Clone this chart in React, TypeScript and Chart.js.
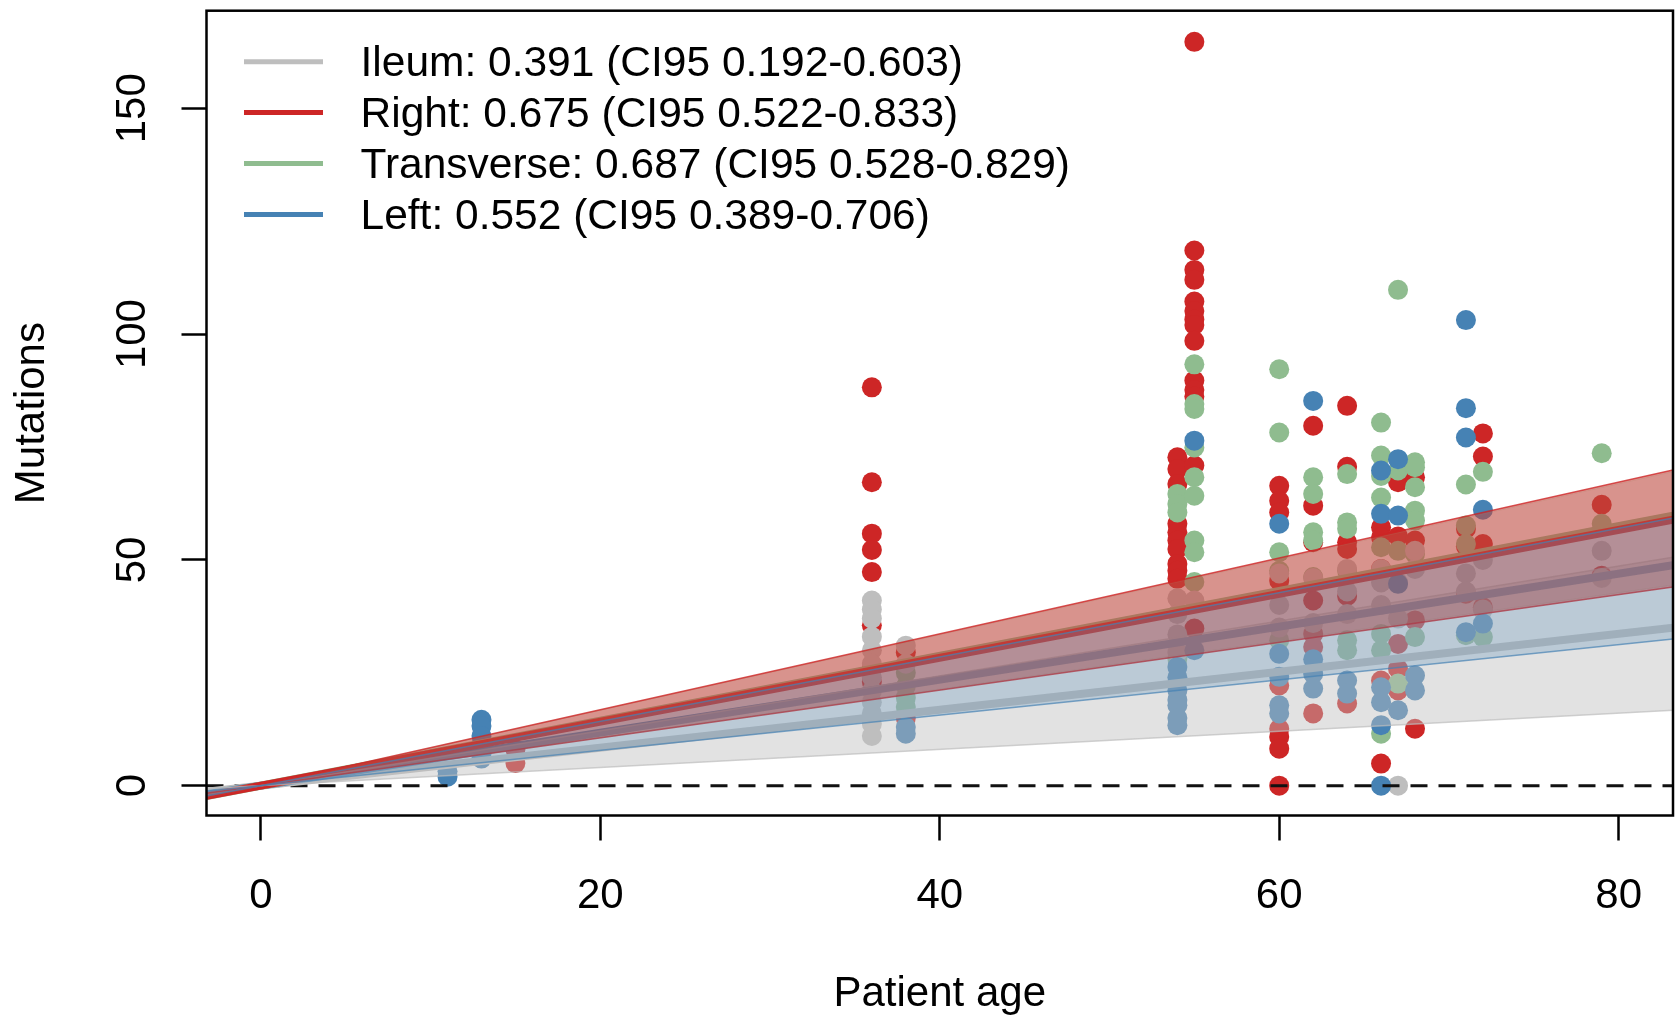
import React, { useEffect, useRef } from 'react';
import { Chart, registerables } from 'chart.js';

Chart.register(...registerables);

const FONT = '"Liberation Sans", Arial, Helvetica, sans-serif';

// ---- groups / fits ----
const groupNames = ['Ileum', 'Right', 'Transverse', 'Left'];
const groupColors = ['#BEBEBE', '#CD2626', '#8FBC8F', '#4682B4'];
const bandAlpha = [0.45, 0.45, 0.25, 0.25];
const bandEdgeAlpha = [0.7, 0.8, 0.2, 0.7];
const estimates = [0.391, 0.675, 0.687, 0.552];
const ciLow = [0.192, 0.522, 0.528, 0.389];
const ciHigh = [0.603, 0.833, 0.829, 0.706];
// fitted mutations read at the right edge of the plot (age 83.2); lines pass through the origin
const fitLineAtEdge = [35.0, 58.9, 59.8, 48.8];
const fitLowAtEdge = [16.7, 44.0, 44.4, 32.5];
const fitHighAtEdge = [50.6, 69.9, 69.6, 59.3];

// ---- axes ----
const xTicks = [0, 20, 40, 60, 80];
const yTicks = [0, 50, 100, 150];
const xRange = [-3.2, 83.2];
const yRange = [-6.6, 171.6];
const xTitle = 'Patient age';
const yTitle = 'Mutations';

// ---- points ----
const ileumAge = [13, 36, 36, 36, 36, 36, 36, 36, 36, 36, 36, 36, 36, 38, 38, 54, 54, 54, 54, 55, 60, 60, 60, 62, 62, 64, 64, 64, 66, 66, 66, 67, 67, 67, 68, 68, 71, 71, 72, 72, 79, 79];
const ileumMut = [9, 41, 39, 37, 33, 30, 27, 24, 21, 18.5, 16, 13.7, 11, 31, 27, 41.5, 38, 33.5, 29.5, 41, 47, 40, 35, 46, 36, 48, 43, 38, 48, 45, 40, 45, 37, 0, 52, 48, 47, 43, 50, 39, 52, 46];

const rightAge = [15, 15, 36, 36, 36, 36, 36, 36, 36, 36, 38, 38, 54, 54, 54, 54, 54, 54, 54, 54, 54, 54, 55, 55, 55, 55, 55, 55, 55, 55, 55, 55, 55, 55, 55, 55, 60, 60, 60, 60, 60, 60, 60, 60, 60, 62, 62, 62, 62, 62, 62, 62, 64, 64, 64, 64, 64, 64, 66, 66, 66, 66, 66, 67, 67, 67, 67, 67, 68, 68, 68, 68, 71, 71, 71, 72, 72, 72, 72, 79, 79];
const rightMut = [5, 8, 88.2, 67.2, 55.8, 52.2, 47.3, 35.5, 26, 23, 29.5, 15, 72.7, 70.1, 66.8, 58, 56.1, 54.3, 52.4, 49.1, 47.6, 45.8, 164.7, 118.5, 114.2, 112, 107.2, 105.1, 103.2, 102, 98.5, 89.7, 87.6, 86.2, 70.9, 34.8, 66.4, 63.1, 60.5, 45.4, 22.2, 12.6, 10.8, 8.2, 0, 79.7, 62, 53.9, 41, 33.6, 30.7, 16, 84.1, 70.6, 53.9, 52.4, 42, 18.2, 57.2, 55, 48, 23.3, 4.9, 67.2, 55.2, 31.4, 25.9, 21.1, 68.3, 54.3, 36.6, 12.6, 56.9, 53, 42.5, 78, 72.9, 53.5, 39.5, 62.2, 46.5];

const transverseAge = [38, 38, 38, 38, 54, 54, 54, 54, 55, 55, 55, 55, 55, 55, 55, 55, 55, 60, 60, 60, 60, 60, 62, 62, 62, 62, 62, 64, 64, 64, 64, 64, 64, 66, 66, 66, 66, 66, 66, 66, 66, 67, 67, 67, 67, 68, 68, 68, 68, 68, 68, 68, 71, 71, 71, 71, 72, 72, 79, 79];
const transverseMut = [25, 22, 19.5, 17.4, 64.6, 62.4, 60.5, 28.1, 93.3, 84.5, 83.4, 74.9, 68.3, 64.2, 54.3, 51.7, 45.1, 92.2, 78.2, 51.7, 47.6, 32.2, 68.3, 64.6, 56.1, 54.3, 46.2, 69, 58.3, 56.9, 47.6, 32.2, 30, 80.4, 73.1, 68.6, 63.8, 52.8, 33.6, 30, 11.5, 109.8, 69.8, 52, 22.6, 71.6, 70.5, 66.1, 60.9, 58.7, 51.3, 32.9, 66.7, 57.6, 53.5, 33.3, 69.5, 32.9, 73.6, 58];

const leftAge = [11, 11, 13, 13, 13, 13, 13, 13, 38, 38, 54, 54, 54, 54, 54, 54, 54, 55, 55, 60, 60, 60, 60, 60, 62, 62, 62, 62, 64, 64, 66, 66, 66, 66, 66, 66, 67, 67, 67, 67, 68, 68, 71, 71, 71, 71, 72, 72];
const leftMut = [2, 3.2, 14.6, 13.2, 11, 9, 7, 6, 13, 11.5, 26.3, 24, 21.1, 19, 17.8, 15, 13.4, 76.4, 30, 58, 29.2, 24.1, 17.8, 16, 85.2, 28, 24.8, 21.5, 23.3, 20.4, 69.8, 60.2, 21.8, 18.5, 13.4, 0, 72.3, 59.8, 44.7, 16.7, 24.4, 21.1, 103.1, 83.6, 77.1, 34, 61.1, 35.9];

const groupAges = [ileumAge, rightAge, transverseAge, leftAge];
const groupMuts = [ileumMut, rightMut, transverseMut, leftMut];
// drawing order (higher = drawn earlier / underneath)
const pointOrder = [102, 104, 103, 101];
const lineOrder = [64, 61, 62, 63];
const bandOrder = [40, 20, 30, 10];

function rgba(hex: string, a: number) {
  const n = parseInt(hex.slice(1), 16);
  return `rgba(${(n >> 16) & 255},${(n >> 8) & 255},${n & 255},${a})`;
}

function throughOrigin(edgeValue: number) {
  return [
    { x: xRange[0], y: (edgeValue * xRange[0]) / xRange[1] },
    { x: xRange[1], y: edgeValue },
  ];
}

const legendLabels = groupNames.map(
  (n, i) => `${n}: ${estimates[i].toFixed(3)} (CI95 ${ciLow[i].toFixed(3)}-${ciHigh[i].toFixed(3)})`
);

const frameAndLegend = {
  id: 'frameAndLegend',
  afterDraw(chart: any) {
    const { ctx, chartArea: a } = chart;
    ctx.save();
    ctx.strokeStyle = '#000';
    ctx.lineWidth = 2.5;
    ctx.strokeRect(a.left, a.top, a.right - a.left, a.bottom - a.top);
    ctx.font = `42.5px ${FONT}`;
    ctx.textBaseline = 'middle';
    ctx.textAlign = 'left';
    legendLabels.forEach((label, i) => {
      const y = a.top + 51 + i * 50.9;
      ctx.strokeStyle = groupColors[i];
      ctx.lineWidth = 5;
      ctx.lineCap = 'butt';
      ctx.beginPath();
      ctx.moveTo(a.left + 37.5, y);
      ctx.lineTo(a.left + 116.5, y);
      ctx.stroke();
      ctx.fillStyle = '#000';
      ctx.fillText(label, a.left + 154, y + 2.5);
    });
    ctx.restore();
  },
};

export default function App() {
  const ref = useRef<HTMLCanvasElement>(null);

  useEffect(() => {
    if (!ref.current) return;
    const datasets: any[] = [];

    // points
    groupNames.forEach((name, g) => {
      datasets.push({
        label: name + ' samples',
        data: groupAges[g].map((a, i) => ({ x: a, y: groupMuts[g][i] })),
        showLine: false,
        pointRadius: 10,
        pointBorderWidth: 0,
        pointBackgroundColor: groupColors[g],
        pointBorderColor: groupColors[g],
        order: pointOrder[g],
      });
    });

    // zero reference line
    datasets.push({
      label: 'zero',
      data: [
        { x: xRange[0], y: 0 },
        { x: xRange[1], y: 0 },
      ],
      borderColor: '#111',
      borderWidth: 3,
      borderDash: [17, 11],
      pointRadius: 0,
      fill: false,
      clip: 0,
      order: 90,
    });

    // fitted lines
    groupNames.forEach((name, g) => {
      datasets.push({
        label: name + ' fit',
        data: throughOrigin(fitLineAtEdge[g]),
        borderColor: groupColors[g],
        borderWidth: 8,
        pointRadius: 0,
        fill: false,
        clip: 0,
        order: lineOrder[g],
      });
    });

    // confidence bands
    groupNames.forEach((name, g) => {
      datasets.push({
        label: name + ' low',
        data: throughOrigin(fitLowAtEdge[g]),
        borderColor: rgba(groupColors[g], bandEdgeAlpha[g]),
        borderWidth: 1.5,
        pointRadius: 0,
        fill: false,
        clip: 0,
        order: bandOrder[g],
      });
      datasets.push({
        label: name + ' high',
        data: throughOrigin(fitHighAtEdge[g]),
        borderColor: rgba(groupColors[g], bandEdgeAlpha[g]),
        borderWidth: 1.5,
        pointRadius: 0,
        fill: '-1',
        backgroundColor: rgba(groupColors[g], bandAlpha[g]),
        clip: 0,
        order: bandOrder[g],
      });
    });

    const chart = new Chart(ref.current, {
      type: 'line',
      data: { datasets },
      options: {
        animation: false,
        responsive: false,
        devicePixelRatio: 1,
        events: [],
        layout: { autoPadding: false, padding: { left: 0, right: 5, top: 10.7, bottom: 0 } },
        elements: { line: { tension: 0 } },
        plugins: {
          legend: { display: false },
          tooltip: { enabled: false },
          filler: { propagate: false },
        },
        scales: {
          x: {
            type: 'linear',
            position: 'bottom',
            min: xRange[0],
            max: xRange[1],
            afterBuildTicks: (s: any) => {
              s.ticks = xTicks.map((v) => ({ value: v }));
            },
            afterFit: (s: any) => {
              s.height = 204.5;
              s.paddingLeft = 0;
              s.paddingRight = 0;
            },
            grid: {
              drawOnChartArea: false,
              drawTicks: true,
              tickLength: 25,
              tickWidth: 2.5,
              tickColor: '#000',
            },
            border: { display: false },
            ticks: {
              autoSkip: false,
              maxRotation: 0,
              minRotation: 0,
              padding: 31,
              color: '#000',
              font: { size: 42, family: FONT },
            },
            title: {
              display: true,
              text: xTitle,
              color: '#000',
              font: { size: 42, family: FONT },
              padding: { top: 0, bottom: 0 },
            },
          },
          y: {
            type: 'linear',
            position: 'left',
            min: yRange[0],
            max: yRange[1],
            afterBuildTicks: (s: any) => {
              s.ticks = yTicks.map((v) => ({ value: v }));
            },
            afterFit: (s: any) => {
              s.width = 206.5;
              s.paddingTop = 0;
              s.paddingBottom = 0;
            },
            grid: {
              drawOnChartArea: false,
              drawTicks: true,
              tickLength: 25,
              tickWidth: 2.5,
              tickColor: '#000',
            },
            border: { display: false },
            ticks: {
              autoSkip: false,
              minRotation: 90,
              maxRotation: 90,
              crossAlign: 'center',
              padding: 13.5,
              color: '#000',
              font: { size: 42, family: FONT },
            },
            title: {
              display: true,
              text: yTitle,
              color: '#000',
              font: { size: 42, family: FONT },
              padding: { top: 7, bottom: 0 },
            },
          },
        },
      } as any,
      plugins: [frameAndLegend],
    });
    return () => chart.destroy();
  }, []);

  return (
    <div style={{ position: 'fixed', left: 0, top: 0, width: 1678, height: 1020, background: '#fff' }}>
      <canvas ref={ref} width={1678} height={1020} style={{ display: 'block', width: 1678, height: 1020 }} />
    </div>
  );
}
